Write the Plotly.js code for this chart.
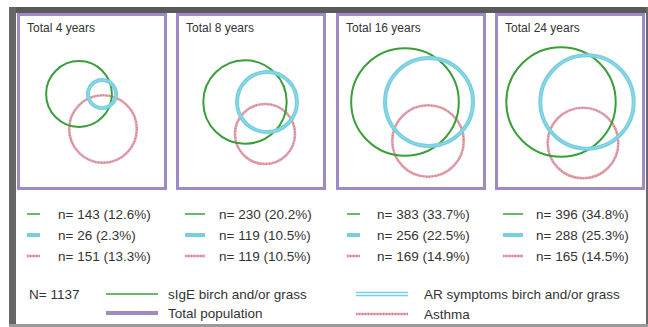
<!DOCTYPE html>
<html>
<head>
<meta charset="utf-8">
<script src="https://cdn.plot.ly/plotly-3.0.1.min.js"></script>
<style>html,body{margin:0;padding:0;overflow:hidden;background:#fff;}#chart{width:648px;height:327px;}</style>
</head>
<body>
<div id="chart"></div>
<script>
// ---- data ----
const panelTitles = ["Total 4 years", "Total 8 years", "Total 16 years", "Total 24 years"];
const sIgE_n = [143, 230, 383, 396];
const sIgE_pct = [12.6, 20.2, 33.7, 34.8];
const AR_n = [26, 119, 256, 288];
const AR_pct = [2.3, 10.5, 22.5, 25.3];
const asthma_n = [151, 119, 169, 165];
const asthma_pct = [13.3, 10.5, 14.9, 14.5];
const totalN = 1137;
const seriesNames = ["sIgE birch and/or grass", "AR symptoms birch and/or grass", "Total population", "Asthma"];

// ---- layout (positions, pixel space) ----
const panelLeft = [17, 176, 336, 495];
const greenDX = [62, 69, 69, 66], greenDY = [94, 102, 102, 102];
const cyanDX = [85, 91, 93, 92], cyanDY = [94, 102, 102, 102];
const redDX = [86, 89, 92, 88], redDY = [129, 134, 141, 143];
const rScale = 2.75; // circle area proportional to n
const legTextX = [56, 217, 375, 534];
const legLineX0 = [27, 185, 347, 503];
const legLineX1 = [40, 205, 360, 523];
const rowY = [214, 235, 256];

const C = {
  green: '#3a9e3a', greenLeg: '#66bb66', cyan: '#78cfe0', cyanIn: '#a3dfeb',
  red: '#e2a4ae', redDot: '#c9657a', purple: '#a08ac4', text: '#333333'
};

const shapes = [];
const ann = [];
// screenshot frame
shapes.push({type:'rect', xref:'x', yref:'y', x0:9, x1:648, y0:7, y1:13, fillcolor:'#5a5a5a', line:{width:0}, layer:'below'});
shapes.push({type:'rect', xref:'x', yref:'y', x0:9, x1:16, y0:7, y1:324, fillcolor:'#666666', line:{width:0}, layer:'below'});
shapes.push({type:'rect', xref:'x', yref:'y', x0:646, x1:648, y0:7, y1:327, fillcolor:'#6a6a6a', line:{width:0}, layer:'below'});
shapes.push({type:'rect', xref:'x', yref:'y', x0:9, x1:648, y0:324, y1:327, fillcolor:'#9a9a9a', line:{width:0}, layer:'below'});

function circle(cx, cy, r, color, width, dash) {
  const s = {type:'circle', xref:'x', yref:'y', x0:cx-r, x1:cx+r, y0:cy-r, y1:cy+r, line:{color:color, width:width}};
  if (dash) s.line.dash = dash;
  return s;
}
function seg(x0, x1, y, color, width, dash) {
  const s = {type:'line', xref:'x', yref:'y', x0:x0, x1:x1, y0:y, y1:y, line:{color:color, width:width}};
  if (dash) s.line.dash = dash;
  return s;
}
function text(t, x, y, size) {
  return {text:t, x:x, y:y, xref:'x', yref:'y', showarrow:false, xanchor:'left', yanchor:'middle',
          font:{family:'Liberation Sans, Arial, sans-serif', size:size, color:C.text}};
}

for (let i = 0; i < 4; i++) {
  const L = panelLeft[i];
  shapes.push({type:'rect', xref:'x', yref:'y', x0:L+1.5, x1:L+148.5, y0:14.5, y1:188.5, line:{color:C.purple, width:3}});
  ann.push(text(panelTitles[i], L+8, 28, 12));
  // red (asthma)
  const rr = rScale*Math.sqrt(asthma_n[i]);
  shapes.push(circle(L+redDX[i], redDY[i], rr, C.red, 2.6));
  shapes.push(circle(L+redDX[i], redDY[i], rr, C.redDot, 1, '1px,2px'));
  // green (sIgE)
  const rg = rScale*Math.sqrt(sIgE_n[i]);
  shapes.push(circle(L+greenDX[i], greenDY[i], rg, C.green, 2));
  // cyan (AR) double line
  const rc = rScale*Math.sqrt(AR_n[i]);
  shapes.push(circle(L+cyanDX[i], cyanDY[i], rc, C.cyan, 4));
  shapes.push(circle(L+cyanDX[i], cyanDY[i], rc, C.cyanIn, 0.6));

  // per-panel legend
  shapes.push(seg(legLineX0[i], legLineX1[i], rowY[0], C.greenLeg, 2));
  shapes.push(seg(legLineX0[i], legLineX1[i], rowY[1], C.cyan, 4));
  shapes.push(seg(legLineX0[i], legLineX1[i], rowY[2], C.red, 2.6));
  shapes.push(seg(legLineX0[i], legLineX1[i], rowY[2], C.redDot, 1, '1px,2px'));
  ann.push(text(`n= ${sIgE_n[i]} (${sIgE_pct[i].toFixed(1)}%)`, legTextX[i], rowY[0], 13.5));
  ann.push(text(`n= ${AR_n[i]} (${AR_pct[i].toFixed(1)}%)`, legTextX[i], rowY[1], 13.5));
  ann.push(text(`n= ${asthma_n[i]} (${asthma_pct[i].toFixed(1)}%)`, legTextX[i], rowY[2], 13.5));
}

// bottom key
ann.push(text(`N= ${totalN}`, 27, 294, 13.5));
shapes.push(seg(106, 158, 294, C.greenLeg, 2));
ann.push(text(seriesNames[0], 166, 294, 13.5));
shapes.push(seg(106, 158, 313, C.purple, 4));
ann.push(text(seriesNames[2], 166, 313, 13.5));
shapes.push(seg(356, 408, 292.5, C.cyan, 1.6));
shapes.push(seg(356, 408, 295.5, C.cyan, 1.6));
ann.push(text(seriesNames[1], 422, 294, 13.5));
shapes.push(seg(356, 408, 314, C.red, 2.6));
shapes.push(seg(356, 408, 314, C.redDot, 1, '1px,2px'));
ann.push(text(seriesNames[3], 422, 314, 13.5));

const layout = {
  width: 648, height: 327,
  margin: {l:0, r:0, t:0, b:0},
  paper_bgcolor: '#ffffff', plot_bgcolor: '#ffffff',
  xaxis: {range:[0,648], visible:false, fixedrange:true},
  yaxis: {range:[327,0], visible:false, fixedrange:true},
  showlegend: false,
  shapes: shapes,
  annotations: ann
};
Plotly.newPlot('chart', [], layout, {staticPlot:true, displayModeBar:false});
</script>
</body>
</html>
